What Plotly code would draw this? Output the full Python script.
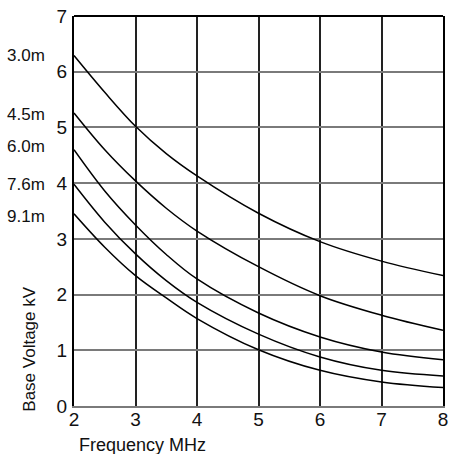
import plotly.graph_objects as go

freq_mhz = [2, 2.5, 3, 3.5, 4, 5, 6, 7, 8]
v_3_0m = [6.29, 5.63, 5.02, 4.53, 4.13, 3.46, 2.95, 2.60, 2.34]
v_4_5m = [5.26, 4.60, 4.04, 3.55, 3.14, 2.50, 1.98, 1.63, 1.36]
v_6_0m = [4.60, 3.86, 3.25, 2.72, 2.28, 1.67, 1.24, 0.97, 0.83]
v_7_6m = [3.98, 3.30, 2.73, 2.25, 1.86, 1.29, 0.88, 0.64, 0.54]
v_9_1m = [3.45, 2.85, 2.34, 1.94, 1.57, 1.01, 0.64, 0.43, 0.33]

series_names = ["3.0m", "4.5m", "6.0m", "7.6m", "9.1m"]
series_values = [v_3_0m, v_4_5m, v_6_0m, v_7_6m, v_9_1m]

x_ticks = [2, 3, 4, 5, 6, 7, 8]
y_ticks = [0, 1, 2, 3, 4, 5, 6, 7]

FONT = "Liberation Sans, Arial, sans-serif"

fig = go.Figure()
for name, vals in zip(series_names, series_values):
    fig.add_trace(go.Scatter(
        x=freq_mhz, y=vals, mode="lines", name=name,
        line=dict(color="black", width=1.5, shape="spline", smoothing=1.0),
        showlegend=False, hoverinfo="skip",
    ))

# curve labels at left
label_shift = [0, -2, 3, 0, -3]
for name, vals, sh in zip(series_names, series_values, label_shift):
    fig.add_annotation(
        xref="paper", yref="y", x=-0.187, y=vals[0], yshift=sh,
        text=name, showarrow=False, xanchor="left", yanchor="middle",
        font=dict(family=FONT, size=17, color="#111"),
    )

# axis titles
fig.add_annotation(
    xref="paper", yref="paper", x=-0.123, y=0.146, text="Base Voltage kV",
    textangle=-90, showarrow=False, xanchor="center", yanchor="middle",
    font=dict(family=FONT, size=17, color="#111"),
)
fig.add_annotation(
    xref="paper", yref="paper", x=0.1845, y=-0.1, text="Frequency MHz",
    showarrow=False, xanchor="center", yanchor="middle",
    font=dict(family=FONT, size=18, color="#111"),
)

# top frame line
fig.add_shape(type="line", xref="paper", yref="paper", x0=0, x1=1, y0=1, y1=1,
              line=dict(color="black", width=2), layer="above")

fig.update_xaxes(
    range=[2, 8], tickvals=x_ticks, ticktext=[str(t) for t in x_ticks],
    showgrid=True, gridcolor="#222222", gridwidth=2,
    showline=True, linecolor="#7a7a7a", linewidth=2,
    ticks="", zeroline=False, ticklabelstandoff=-5,
    tickfont=dict(family=FONT, size=19, color="#111"),
)
fig.update_yaxes(
    range=[0, 7], tickvals=y_ticks, ticktext=[str(t) for t in y_ticks],
    showgrid=True, gridcolor="#7a7a7a", gridwidth=2,
    showline=True, linecolor="black", linewidth=2, mirror=True,
    ticks="", zeroline=False, ticklabelstandoff=1,
    tickfont=dict(family=FONT, size=19, color="#111"),
)

fig.update_layout(
    width=454, height=454,
    margin=dict(l=74, r=6, t=15, b=48),
    paper_bgcolor="white", plot_bgcolor="white",
)

fig.write_html("out.html", config={"displayModeBar": False, "staticPlot": True})

# remove the default page margin so the figure sits at the window's corner
with open("out.html", "r", encoding="utf-8") as f:
    html = f.read()
html = html.replace("<body>", '<body style="margin:0;padding:0;overflow:hidden">', 1)
with open("out.html", "w", encoding="utf-8") as f:
    f.write(html)
